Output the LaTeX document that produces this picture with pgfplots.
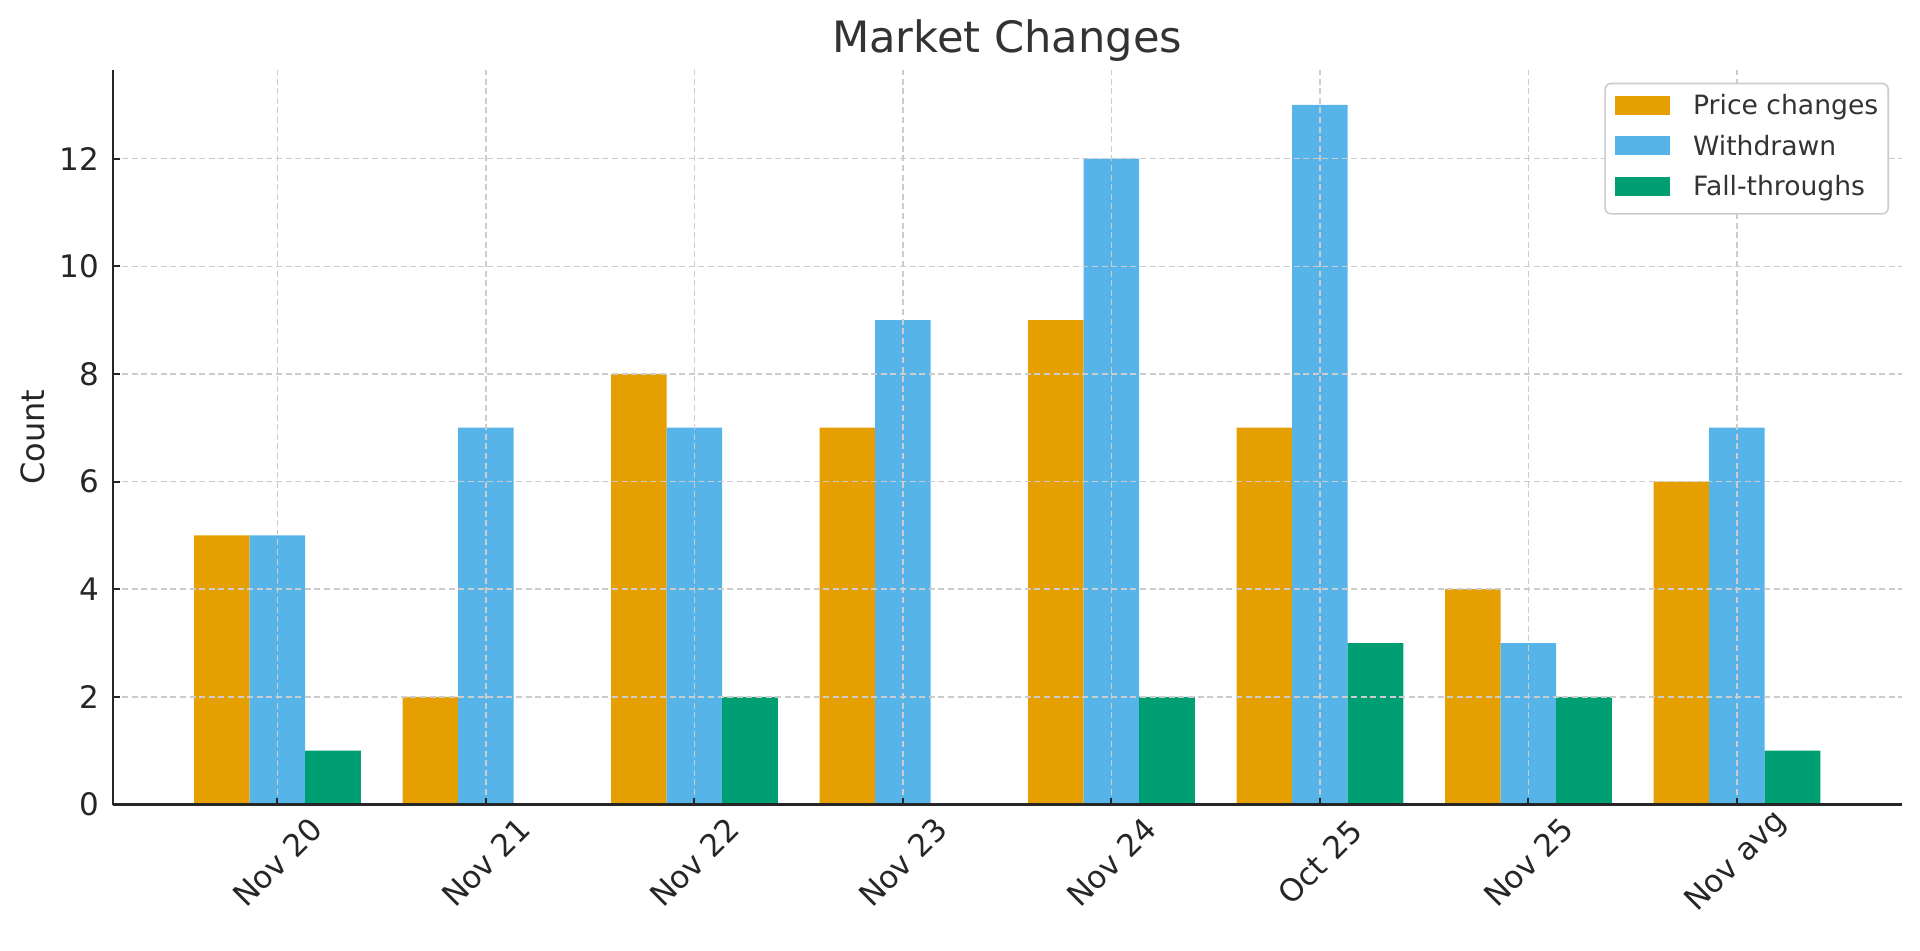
\documentclass[border=0pt]{standalone}
\usepackage{fontspec}
\setmainfont{DejaVu Sans}
\usepackage{pgfplots}
\usepackage{pgfplotstable}
\pgfplotsset{compat=1.18}

\definecolor{cOrange}{HTML}{E69F00}
\definecolor{cBlue}{HTML}{56B4E9}
\definecolor{cGreen}{HTML}{009E73}
\definecolor{txt}{HTML}{333333}
\definecolor{spine}{HTML}{262626}
\definecolor{gridc}{HTML}{CCCCCC}

% x: category index (Nov 20 ... Nov avg)
\pgfplotstableread{
x price withdrawn fall
0 5 5  1
1 2 7  0
2 8 7  2
3 7 9  0
4 9 12 2
5 7 13 3
6 4 3  2
7 6 7  1
}\marketdata

\pgfplotsset{
  patch legend/.style={
    legend image code/.code={
      \fill[sharp corners,##1] (0pt,0.1pt) rectangle (27.5pt,9.6pt);
      \path (39pt,0pt);
    }
  }
}

\begin{document}
\begin{tikzpicture}
\path[use as bounding box] (-56.35pt,-72.75pt) rectangle (903.65pt,402.25pt);
\begin{axis}[
    at={(0pt,0pt)}, anchor=south west,
    scale only axis, width=894.45pt, height=367.35pt,
    xmin=-0.79, xmax=7.79, ymin=0, ymax=13.65,
    ybar, bar width=0.2667,
    axis x line*=bottom, axis y line*=left,
    axis line style={-, spine, line width=1.1pt},
    tick align=inside, major tick length=3.5pt,
    tick style={spine, line width=1pt},
    xtick={0,...,7},
    xticklabels={Nov 20, Nov 21, Nov 22, Nov 23, Nov 24, Oct 25, Nov 25, Nov avg},
    ytick={0,2,...,12},
    grid=major,
    grid style={gridc, dash pattern=on 3pt off 1.8pt, line width=0.75pt},
    axis on top,
    /pgf/number format/assume math mode=true,
    yticklabel style={font=\fontsize{15.5}{18}\selectfont, text=spine,
      anchor=east, inner sep=0pt, xshift=-6.5pt},
    xticklabel style={font=\fontsize{15.5}{18}\selectfont, text=spine,
      yshift=-28.8pt, rotate=45, anchor=center, inner sep=0pt},
    ylabel={Count},
    ylabel style={at={([xshift=-39.85pt]axis description cs:0,0.5)},
      anchor=center, font=\fontsize{16}{19}\selectfont, text=spine},
    title={Market Changes},
    every axis title shift=0pt,
    title style={at={(axis description cs:0.5,1)}, anchor=base, yshift=8.9pt,
      font=\fontsize{21.6}{26}\selectfont, text=txt},
    legend cell align=left,
    legend style={
      at={(1,1)}, anchor=north east, xshift=-6.3pt, yshift=-6.45pt,
      draw=gridc, line width=0.8pt, rounded corners=3pt, fill=white,
      font=\fontsize{13.3}{16}\selectfont, text=txt,
      inner xsep=5pt, inner ysep=2.2pt, row sep=0pt,
      nodes={inner sep=0pt, text height=13.5pt, text depth=6.75pt, anchor=base west},
    },
]

\addplot[fill=cOrange, draw=none, bar shift=-0.2667, patch legend]
  table[x=x, y=price] {\marketdata};
\addlegendentry{Price changes}

\addplot[fill=cBlue, draw=none, bar shift=0, patch legend]
  table[x=x, y=withdrawn] {\marketdata};
\addlegendentry{Withdrawn}

\addplot[fill=cGreen, draw=none, bar shift=0.2667, patch legend]
  table[x=x, y=fall] {\marketdata};
\addlegendentry{Fall-throughs}

\end{axis}
\end{tikzpicture}
\end{document}
